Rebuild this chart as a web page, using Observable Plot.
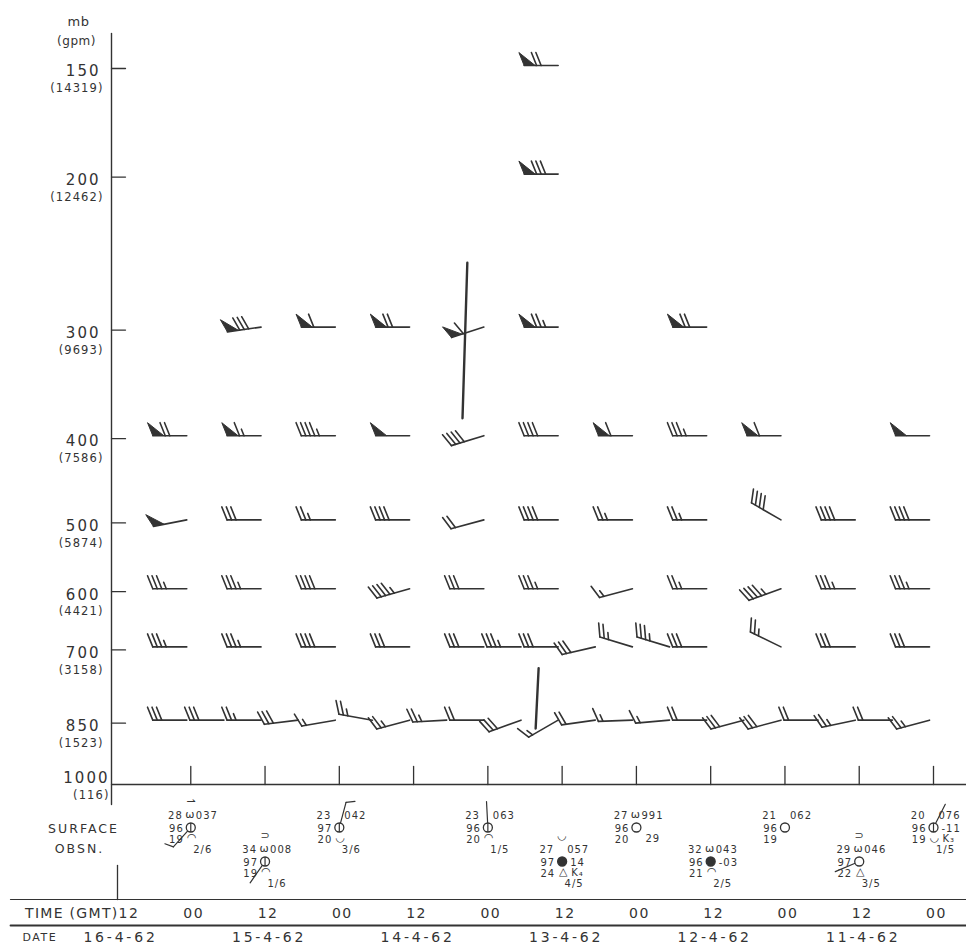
<!DOCTYPE html>
<html><head><meta charset="utf-8">
<script src="https://cdn.jsdelivr.net/npm/d3@7"></script>
<script src="https://cdn.jsdelivr.net/npm/@observablehq/plot@0.6"></script>
<style>body{margin:0;background:#fff;} #chart svg{display:block;}</style>
</head><body><div id="chart"></div>
<script>
// ---------------- DATA ----------------
const levels = [150, 200, 300, 400, 500, 600, 700, 850, 1000];
const levelGpm = ["14319", "12462", "9693", "7586", "5874", "4421", "3158", "1523", "116"];
const timeLabels = ["12", "00", "12", "00", "12", "00", "12", "00", "12", "00", "12", "00"];
const dateLabels = ["16-4-62", "15-4-62", "14-4-62", "13-4-62", "12-4-62", "11-4-62"];
const dateSteps = [0, 2, 4, 6, 8, 10];
const baseTickSteps = [1, 2, 3, 4, 5, 6, 7, 8, 9, 10, 11];

// upper winds: [step (12-h steps from 12Z 16-4-62), direction deg, speed kt]
const wind150 = [[6, 270, 70]];
const wind200 = [[6, 270, 80]];
const wind300 = [[2, 262, 80], [3, 270, 60], [4, 270, 70], [5, 252, 60], [6, 270, 75], [8, 270, 70]];
const wind400 = [[1, 270, 70], [2, 270, 65], [3, 270, 45], [4, 270, 50], [5, 253, 40], [6, 270, 40], [7, 270, 60], [8, 270, 35], [9, 270, 60], [11, 270, 50]];
const wind500 = [[1, 259, 50], [2, 270, 30], [3, 270, 25], [4, 270, 40], [5, 255, 20], [6, 270, 40], [7, 270, 25], [8, 270, 25], [9, 300, 40], [10, 270, 40], [11, 270, 40]];
const wind600 = [[1, 270, 35], [2, 270, 35], [3, 270, 40], [4, 254, 45], [5, 270, 30], [6, 270, 35], [7, 255, 15], [8, 270, 25], [9, 250, 45], [10, 270, 35], [11, 270, 35]];
const wind700 = [[1, 270, 35], [2, 270, 35], [3, 270, 40], [4, 270, 30], [5, 270, 30], [5.5, 270, 35], [6, 270, 30], [6.5, 257, 30], [7, 287, 25], [7.5, 287, 35], [8, 270, 30], [9, 296, 25], [10, 270, 30], [11, 270, 30]];
const wind850 = [[1, 270, 30], [1.5, 270, 30], [2, 270, 25], [2.5, 263, 30], [3, 260, 15], [3.5, 280, 25], [4, 255, 25], [4.5, 267, 25], [5, 270, 20], [5.5, 250, 30], [6, 240, 15], [6.5, 262, 20], [7, 268, 15], [7.5, 265, 15], [8, 270, 20], [8.5, 255, 30], [9, 255, 30], [9.5, 270, 20], [10, 258, 25], [10.5, 270, 20], [11, 255, 25]];

// trough lines: [step1, p1, step2, p2]
const troughs = [[4.71, 251, 4.645, 379], [5.67, 735, 5.63, 862]];

// surface observations
const sfcSteps = [1, 2, 3, 5, 6, 7, 8, 9, 10, 11];
const sfcTemp  = ["28", "34", "23", "23", "27", "27", "32", "21", "29", "20"];
const sfcWx    = ["ω", "ω", "", "", "", "ω", "ω", "", "ω", ""];
const sfcPres  = ["037", "008", "042", "063", "057", "991", "043", "062", "046", "076"];
const sfcVis   = ["96", "97", "97", "96", "97", "96", "96", "96", "97", "96"];
const sfcTend  = ["", "", "", "", "14", "", "-03", "", "", "-11"];
const sfcDew   = ["19", "19", "20", "20", "24", "20", "21", "19", "22", "19"];
const sfcLow   = ["◠", "◠", "◡", "◠", "△", "", "◠", "", "△", "◡"];
const sfcAmt   = ["2/6", "1/6", "3/6", "1/5", "4/5", "", "2/5", "", "3/5", "1/5"];
const sfcExtra = ["", "", "", "", "K₄", "29", "", "", "", "K₃"];
const sfcHigh  = ["⇀", "⊃", "", "", "◡", "", "", "", "⊃", ""];
const sfcCover = ["bar", "bar", "bar", "bar", "full", "clear", "full", "clear", "clear", "bar"];
const sfcDir   = [222, 215, 15, 357, null, null, null, null, 247, 27];
const sfcSpeed = [10, 0, 10, 0, 0, 0, 0, 0, 0, 0];

// ---------------- SCALES & HELPERS ----------------
const INK = "#333";
const X = {domain: [0, 11], range: [117, 934]};
const Y = {type: "log", domain: [1000, 150], range: [784, 68]};
const xs = Plot.scale({x: X});
const ys = Plot.scale({y: Y});
const px = s => xs.apply(s), py = p => ys.apply(p);
const D = (a, b) => ({x: xs.invert(a), y: ys.invert(b)});

const segs = [], overSegs = [], flags = [], circles = [];
let flagId = 0;
function seg(ax, ay, bx, by, w, arr = segs) {
  const a = D(ax, ay), b = D(bx, by);
  arr.push({x1: a.x, y1: a.y, x2: b.x, y2: b.y, w});
}
function poly(pts) {
  const id = flagId++;
  for (const [a, b] of pts) flags.push({...D(a, b), id});
}
function drawBarb(sx, sy, dir, spd, o) {
  const r = dir * Math.PI / 180;
  const ux = Math.sin(r), uy = -Math.cos(r);
  const nx = -uy, ny = ux;
  const a = o.slant * Math.PI / 180;
  const bx = nx * Math.cos(a) + ux * Math.sin(a);
  const by = ny * Math.cos(a) + uy * Math.sin(a);
  const tx = sx + o.L * ux, ty = sy + o.L * uy;
  seg(sx + o.s0 * ux, sy + o.s0 * uy, tx, ty, o.w);
  const n50 = Math.floor(spd / 50);
  const rem = spd - 50 * n50;
  const n10 = Math.floor(rem / 10);
  const n5 = rem - 10 * n10 >= 5 ? 1 : 0;
  let pos = 0;
  const at = d => [tx - d * ux, ty - d * uy];
  for (let i = 0; i < n50; i++) {
    const [qx, qy] = at(pos);
    poly([[qx, qy], [qx + o.B * bx, qy + o.B * by], [qx - o.W * ux, qy - o.W * uy]]);
    pos += o.W + 1.5;
  }
  if (n50 === 0 && n10 === 0 && n5) pos = o.gap;
  for (let i = 0; i < n10; i++) {
    const [qx, qy] = at(pos);
    seg(qx, qy, qx + o.B * bx, qy + o.B * by, o.w);
    pos += o.gap;
  }
  if (n5) {
    const [qx, qy] = at(pos);
    seg(qx, qy, qx + 0.5 * o.B * bx, qy + 0.5 * o.B * by, o.w);
  }
}

// ---------------- BUILD GEOMETRY ----------------
const upperOpts = {L: 34, B: 14, gap: 4.5, W: 11, slant: 22, w: 1.6, s0: 0};
const sfcOpts = {L: 26, B: 9, gap: 3.5, W: 7, slant: 22, w: 1.2, s0: 4.5};
const upper = [[150, wind150], [200, wind200], [300, wind300], [400, wind400], [500, wind500], [600, wind600], [700, wind700], [850, wind850]];
for (const [p, list] of upper) {
  for (const [s, dir, spd] of list) drawBarb(px(s) - 5, py(p) - 3, dir, spd, upperOpts);
}

// axis, level ticks, 1000-mb baseline and its ticks
const axisX = px(0) - 6;
seg(axisX, py(150) - 35, axisX, py(1000) + 20, 1.4);
for (const p of levels.slice(0, -1)) seg(axisX, py(p), axisX + 14, py(p), 1.3);
seg(axisX, py(1000), 966, py(1000), 1.3);
for (const s of baseTickSteps) seg(px(s) - 1, py(1000), px(s) - 1, py(1000) - 18, 1.3);

// table lines at bottom
const rowTime = py(1000) + 129, rowDate = py(1000) + 153;
seg(10, py(1000) + 115, 966, py(1000) + 115, 1.2);
seg(10, py(1000) + 141, 966, py(1000) + 141, 1.8);
seg(px(0), py(1000) + 81, px(0), py(1000) + 115, 1.3);

// ---------------- TEXT ITEMS ----------------
const T = (a, b, t) => ({...D(a, b), t});
const textGroups = [];
function addText(items, anchor, fs, ls, weight = "normal") {
  textGroups.push({items: items.filter(d => d.t !== ""), anchor, fs, ls, weight});
}

addText([T(78, 21, "mb")], "middle", 13, 0.5);
addText([T(76, 41, "(gpm)")], "middle", 12, 0.5);
addText(levels.slice(0, -1).map(p => T(px(0) - 17, py(p) + 3, String(p))), "end", 15, 2);
addText(levels.slice(0, -1).map((p, i) => T(px(0) - 14, py(p) + 20, "(" + levelGpm[i] + ")")), "end", 11.5, 1.1);
addText([T(px(0) - 8, py(1000) - 6, "1000")], "end", 15, 2);
addText([T(px(0) - 8, py(1000) + 11, "(" + levelGpm[8] + ")")], "end", 11.5, 1.1);
addText([T(83, py(1000) + 44, "SURFACE"), T(79, py(1000) + 64, "OBSN.")], "middle", 12.5, 2);
addText([T(px(0) + 1, rowTime, "TIME (GMT)")], "end", 14, 1.3);
addText([T(px(0) + 1, rowTime, timeLabels[0])], "start", 14, 1.5);
addText(baseTickSteps.map(s => T(px(s) + 2, rowTime, timeLabels[s])), "middle", 14, 1.5);
addText([T(22, rowDate, "DATE")], "start", 11, 1.5);
addText(dateSteps.map((s, i) => T(px(s) + 3, rowDate, dateLabels[i])), "middle", 14, 2.8);

// surface station models
const sEnd = [], sStart = [], sMid = [], sSym = [];
sfcSteps.forEach((s, i) => {
  const cx = px(s) - 1;
  const cy = py(1000) + (s % 2 === 0 ? 77 : 43);
  sEnd.push(T(cx - 8, cy - 12, sfcTemp[i]));
  sSym.push(T(cx - 1, cy - 13, sfcWx[i]));
  sStart.push(T(cx + 5, cy - 12, sfcPres[i]));
  sEnd.push(T(cx - 7, cy + 1, sfcVis[i]));
  sStart.push(T(cx + 8, cy + 1, sfcTend[i]));
  sEnd.push(T(cx - 7, cy + 12, sfcDew[i]));
  sSym.push(T(cx + 1, cy + 10, sfcLow[i]));
  sStart.push(T(cx + 9, cy + 11, sfcExtra[i]));
  sMid.push(T(cx + 12, cy + 22, sfcAmt[i]));
  sSym.push(T(cx, cy - 26, sfcHigh[i]));
  circles.push({...D(cx, cy), f: sfcCover[i] === "full" ? INK : "white"});
  if (sfcCover[i] === "bar") seg(cx, cy - 4.5, cx, cy + 4.5, 1.2, overSegs);
  if (sfcDir[i] != null) drawBarb(cx, cy, sfcDir[i], sfcSpeed[i], sfcOpts);
});
addText(sEnd, "end", 10, 1);
addText(sStart, "start", 10, 1);
addText(sMid, "middle", 10, 1);
addText(sSym, "middle", 11, 0);

// ---------------- PLOT ----------------
const marks = [
  Plot.link(troughs, {x1: d => d[0], y1: d => d[1], x2: d => d[2], y2: d => d[3], stroke: INK, strokeWidth: 2.4, strokeLinecap: "round"}),
  Plot.link(segs, {x1: "x1", y1: "y1", x2: "x2", y2: "y2", stroke: INK, strokeWidth: "w", strokeLinecap: "round"}),
  Plot.line(flags, {x: "x", y: "y", z: "id", fill: INK, stroke: INK, strokeWidth: 1, curve: "linear"}),
  Plot.dot(circles, {x: "x", y: "y", r: 4.5, fill: "f", stroke: INK, strokeWidth: 1.3}),
  Plot.link(overSegs, {x1: "x1", y1: "y1", x2: "x2", y2: "y2", stroke: INK, strokeWidth: "w"}),
  ...textGroups.map(g => Plot.text(g.items, {x: "x", y: "y", text: "t", textAnchor: g.anchor, fontSize: g.fs, fontWeight: g.weight, fill: INK}))
];

const svg = Plot.plot({
  width: 966, height: 946,
  marginTop: 68, marginBottom: 162, marginLeft: 117, marginRight: 32,
  x: {...X, axis: null},
  y: {...Y, axis: null},
  style: {fontFamily: "'DejaVu Sans', sans-serif", background: "#fff", overflow: "visible"},
  marks
});
svg.querySelectorAll('g[aria-label="text"]').forEach((g, i) => {
  if (textGroups[i]) g.setAttribute("letter-spacing", textGroups[i].ls);
});
document.getElementById("chart").appendChild(svg);
</script>
</body></html>
